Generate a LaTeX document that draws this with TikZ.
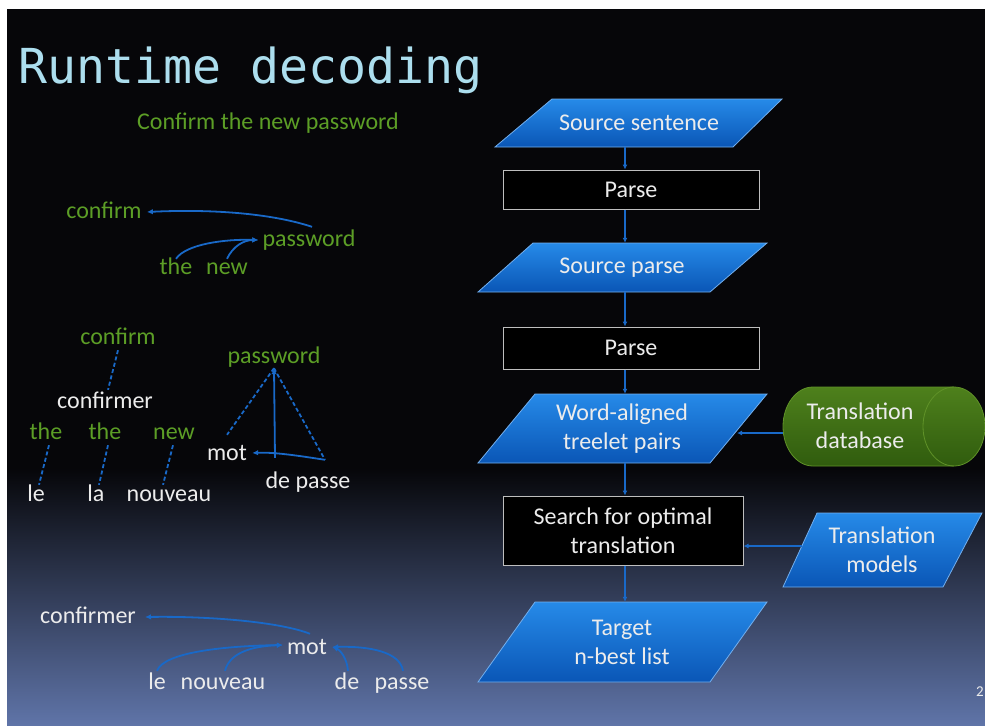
\documentclass[tikz,border=0pt]{standalone}
\usepackage{fontspec}
\setmainfont{Carlito}
\newfontfamily\titlefont{DejaVu Sans Mono}
\usetikzlibrary{arrows.meta}
\definecolor{bgtop}{RGB}{6,6,9}
\definecolor{bgbot}{RGB}{95,116,168}
\definecolor{conn}{RGB}{25,105,200}
\definecolor{grn}{RGB}{92,158,38}
\definecolor{wtxt}{RGB}{236,236,236}
\definecolor{ttl}{RGB}{172,222,238}
\definecolor{ptop}{RGB}{38,138,232}
\definecolor{pbot}{RGB}{10,86,182}
\definecolor{pedge}{RGB}{115,175,238}
\definecolor{bedge}{RGB}{190,190,190}
\definecolor{dbtop}{RGB}{78,128,28}
\definecolor{dbbot}{RGB}{48,92,14}
\definecolor{dbedge}{RGB}{96,146,40}
\tikzset{
  txt/.style={font=\fontsize{24}{29}\selectfont, text height=17pt, text depth=5pt, inner sep=1pt},
  gw/.style={txt, text=grn},
  ww/.style={txt, text=wtxt},
  lbl/.style={font=\fontsize{24}{29}\selectfont, text=wtxt, align=center, inner sep=0pt},
  para/.style={top color=ptop, bottom color=pbot, draw=pedge, line width=0.8pt},
  pbox/.style={lbl, draw=bedge, fill=black, line width=1pt},
  arr/.style={draw=conn, line width=1.5pt, -{Latex[length=5pt,width=5pt]}},
  tarr/.style={draw=conn, line width=1.8pt, -{Latex[length=6pt,width=5.5pt]}},
  dsh/.style={draw=conn, line width=1.8pt, dashed, dash pattern=on 4pt off 2.5pt},
  sld/.style={draw=conn, line width=1.8pt}
}
\begin{document}
\begin{tikzpicture}[x=1pt,y=-1pt]
\useasboundingbox (0,0) rectangle (985,726);
% background
\fill[white] (0,0) rectangle (985,726);
\fill[bgtop] (7,9) rectangle (985,725);
\shade[top color=bgtop, bottom color=bgbot] (7,468) rectangle (985,725);
% title
\node[anchor=base west, inner sep=0pt, text=ttl, font=\titlefont\fontsize{48.2}{50}\selectfont] (title) at (18,83) {Runtime decoding};
\node[gw] (sent) at (268,123) {Confirm the new password};

% ---- tree 1
\node[gw] (cf1) at (104,212) {confirm};
\node[gw] (pw1) at (309,240) {password};
\node[gw] (th1) at (176,268) {the};
\node[gw] (nw1) at (227,268) {new};
\draw[tarr] ([xshift=3pt,yshift=1pt]pw1.north) .. controls (270,213) and (210,209) .. ([xshift=4pt]cf1.east);
\draw[tarr] ([yshift=-3pt]th1.north) .. controls (186,244) and (225,239) .. ([xshift=-3pt]pw1.west);
\draw[tarr] ([yshift=-3pt]nw1.north) .. controls (233,246) and (244,240) .. ([xshift=-3pt]pw1.west);

% ---- tree 2
\node[gw] (cf2) at (118,338) {confirm};
\node[ww] (cfr2) at (105,402) {confirmer};
\node[gw] (th2a) at (46,433) {the};
\node[gw] (th2b) at (105,433) {the};
\node[gw] (nw2) at (174,433) {new};
\node[ww] (le2) at (36,495) {le};
\node[ww] (la2) at (96,495) {la};
\node[ww] (nv2) at (169,495) {nouveau};
\node[gw] (pw2) at (274,357) {password};
\node[ww] (mot2) at (227,454) {mot};
\node[ww] (dp2) at (308,482) {de passe};
\draw[dsh] (cf2.south) -- ([xshift=3pt]cfr2.north);
\draw[dsh] ([xshift=3pt]th2a.south) -- ([xshift=3pt,yshift=-2pt]le2.north);
\draw[dsh] ([xshift=3pt]th2b.south) -- ([xshift=3pt,yshift=-2pt]la2.north);
\draw[dsh] ([xshift=-1pt]nw2.south) -- ([xshift=-6pt,yshift=-2pt]nv2.north);
\coordinate (apex) at ([yshift=1pt]pw2.south);
\coordinate (dpr) at ([xshift=17pt,yshift=10pt]dp2.north);
\coordinate (dpl) at ([xshift=-33pt,yshift=12pt]dp2.north);
\draw[dsh] (apex) -- ([yshift=7pt]mot2.north);
\draw[dsh] (apex) -- (dpr);
\draw[tarr] (dpl) -- (apex);
\draw[tarr] (dpr) .. controls (300,456) and (275,452) .. ([xshift=4pt,yshift=1pt]mot2.east);

% ---- tree 3
\node[ww] (cfr3) at (88,617) {confirmer};
\node[ww] (mot3) at (307,648) {mot};
\node[ww] (le3) at (157,683) {le};
\node[ww] (nv3) at (223,683) {nouveau};
\node[ww] (de3) at (347,683) {de};
\node[ww] (ps3) at (402,683) {passe};
\draw[tarr] ([xshift=3pt,yshift=2pt]mot3.north) .. controls (280,622) and (210,616) .. ([xshift=8pt]cfr3.east);
\draw[tarr] (le3.north) .. controls (164,652) and (225,646) .. ([xshift=-3pt,yshift=3pt]mot3.west);
\draw[tarr] ([xshift=2pt]nv3.north) .. controls (230,651) and (256,646) .. ([xshift=-3pt,yshift=3pt]mot3.west);
\draw[tarr] ([xshift=1pt]de3.north) .. controls (347,658) and (340,650) .. ([xshift=4pt,yshift=1pt]mot3.east);
\draw[tarr] ([xshift=1pt]ps3.north) .. controls (400,652) and (370,646) .. ([xshift=4pt,yshift=1pt]mot3.east);

% ---- flowchart
\coordinate (spine) at (625,0);
\path[para] (552,99) -- (782,99) -- (733,147) -- (495,147) -- cycle;
\node[lbl, minimum height=48pt] (ss) at (639,123) {Source sentence};
\node[pbox, minimum width=256pt, minimum height=39pt] (p1) at (631,189.5) {Parse};
\path[para] (533,243) -- (767,243) -- (710,292) -- (478,292) -- cycle;
\node[lbl, minimum height=49pt] (sp) at (622,267.5) {Source parse};
\node[pbox, minimum width=256pt, minimum height=42pt] (p2) at (631,348) {Parse};
\path[para] (535,394) -- (767,394) -- (710,463) -- (478,463) -- cycle;
\node[lbl, minimum height=69pt] (wa) at (622,428.5) {Word-aligned\\treelet pairs};
\node[pbox, minimum width=240pt, minimum height=69pt] (sr) at (623,530.5) {Search for optimal\\translation};
\path[para] (535,602) -- (767,602) -- (710,682) -- (478,682) -- cycle;
\node[lbl, minimum height=80pt] (tg) at (622,642) {Target\\n-best list};
\path[para] (817,513) -- (982,513) -- (943,587) -- (783,587) -- cycle;
\node[lbl, minimum height=74pt] (tm) at (882,550) {Translation\\models};
% cylinder
\path[top color=dbtop, bottom color=dbbot, draw=dbedge, line width=0.8pt]
  (813,387) -- (954,387) arc[start angle=-90, end angle=90, x radius=31, y radius=39.5]
  -- (813,466) arc[start angle=90, end angle=270, x radius=30, y radius=39.5] -- cycle;
\draw[dbedge, line width=0.8pt] (954,387) arc[start angle=-90, end angle=-270, x radius=31, y radius=39.5];
\node[lbl, minimum width=202pt, minimum height=79pt] (db) at (884,426.5) {};
\node[lbl] (dbt) at (860,426) {Translation\\database};
% connectors
\draw[arr] (ss.south -| spine) -- (p1.north -| spine);
\draw[arr] (p1.south -| spine) -- (sp.north -| spine);
\draw[arr] (sp.south -| spine) -- (p2.north -| spine);
\draw[arr] (p2.south -| spine) -- (wa.north -| spine);
\draw[arr] (wa.south -| spine) -- (sr.north -| spine);
\draw[arr] (sr.south -| spine) -- (tg.north -| spine);
\coordinate (war) at (737,433);
\draw[arr] (db.west |- war) -- (war);
\coordinate (tml) at (802,546);
\draw[arr] (tml) -- (sr.east |- tml);
% page number
\node[anchor=east, inner sep=0pt, text=wtxt, font=\fontsize{15}{15}\selectfont] (pg) at (984,692) {2};
\end{tikzpicture}
\end{document}
